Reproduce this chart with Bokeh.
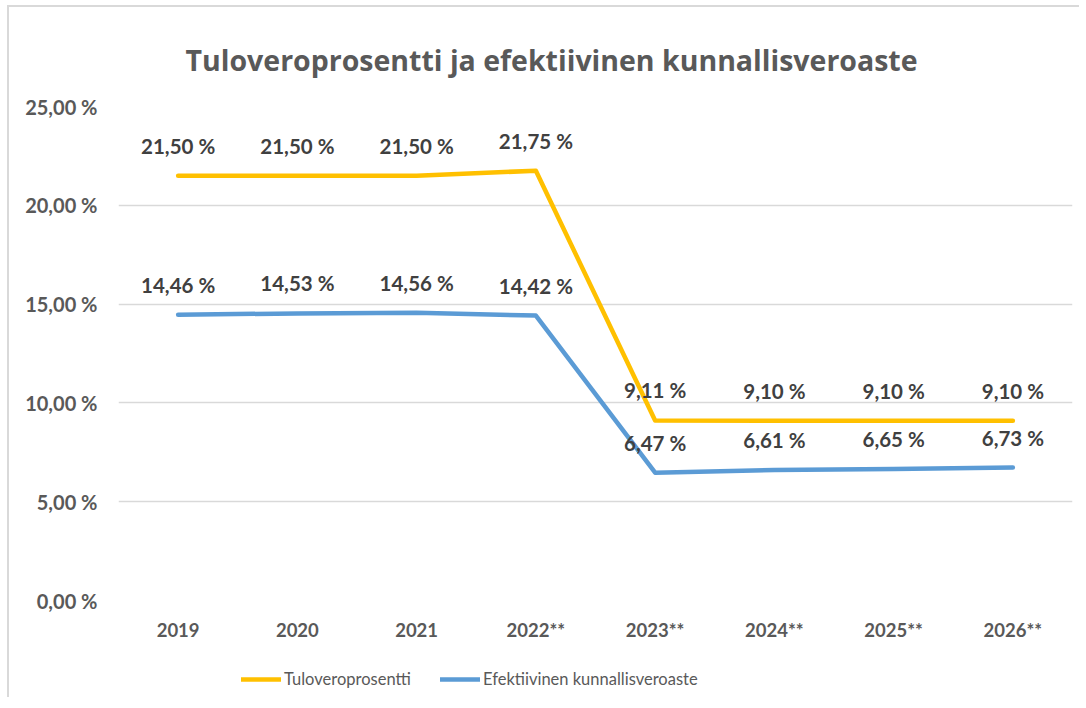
from bokeh.plotting import figure
from bokeh.layouts import column
from bokeh.models import ColumnDataSource, FixedTicker, Legend, LegendItem, Range1d
from bokeh.embed import file_html
from bokeh.resources import INLINE
from bokeh.core.properties import value

# ---- data ----
years = ["2019", "2020", "2021", "2022**", "2023**", "2024**", "2025**", "2026**"]
tulovero = [21.50, 21.50, 21.50, 21.75, 9.11, 9.10, 9.10, 9.10]
efektiivinen = [14.46, 14.53, 14.56, 14.42, 6.47, 6.61, 6.65, 6.73]
yticks = [0, 5, 10, 15, 20, 25]
title_text = "Tuloveroprosentti ja efektiivinen kunnallisveroaste"
series_names = ["Tuloveroprosentti", "Efektiivinen kunnallisveroaste"]


def fmt(v):
    return f"{v:.2f}".replace(".", ",") + " %"


FONT = "Lato"
ORANGE = "#FFC000"
BLUE = "#5B9BD5"
AXIS_C = "#595959"
LABEL_C = "#404040"
colors = [ORANGE, BLUE]

p = figure(x_range=years, y_range=(0, 25), width=1070, height=650,
           output_backend="svg", toolbar_location=None,
           min_border_left=109, min_border_right=7,
           min_border_top=99, min_border_bottom=57)
p.outline_line_color = None
p.background_fill_color = "white"
p.border_fill_color = "white"

p.title.text = title_text
p.title.align = "left"
p.title.offset = 67
p.title.standoff = 55
p.title.text_font = "Open Sans"
p.title.text_font_style = "bold"
p.title.text_font_size = "28.5px"
p.title.text_color = AXIS_C

p.xgrid.grid_line_color = None
p.ygrid.ticker = FixedTicker(ticks=yticks)
p.ygrid.grid_line_color = "#d9d9d9"
p.ygrid.grid_line_width = 1.5

for ax in (p.xaxis[0], p.yaxis[0]):
    ax.axis_line_color = None
    ax.major_tick_line_color = None
    ax.minor_tick_line_color = None
    ax.major_label_text_font = FONT
    ax.major_label_text_font_style = "bold"
    ax.major_label_text_color = AXIS_C

p.xaxis.major_label_text_font_size = "18.5px"
p.yaxis.major_label_text_font_size = "20px"
p.xaxis.major_label_standoff = 12
p.yaxis.ticker = FixedTicker(ticks=yticks)
p.yaxis.major_label_overrides = {t: fmt(t) for t in yticks}
p.yaxis.major_label_standoff = 15

src1 = ColumnDataSource(dict(x=years, y=tulovero, lab=[fmt(v) for v in tulovero]))
src2 = ColumnDataSource(dict(x=years, y=efektiivinen, lab=[fmt(v) for v in efektiivinen]))
sources = [src1, src2]

for src, c in zip(sources, colors):
    p.line("x", "y", source=src, line_color=c, line_width=4.5,
           line_cap="round", line_join="round")

for src in sources:
    p.text("x", "y", text="lab", source=src, y_offset=-30,
           text_align="center", text_baseline="middle",
           text_font=value(FONT), text_font_style="bold",
           text_font_size="20.5px", text_color=LABEL_C)

# ---- legend strip below the chart (same series, outside its visible range) ----
lf = figure(width=1070, height=40, output_backend="svg", toolbar_location=None,
            x_range=p.x_range, y_range=Range1d(-2, -1),
            x_axis_location=None, y_axis_location=None,
            min_border=0)
lf.grid.visible = False
lf.outline_line_color = None
lf.background_fill_color = "white"
lf.border_fill_color = "white"

for name, src, c, xloc in zip(series_names, sources, colors, (123, 322)):
    r = lf.line("x", "y", source=src, line_color=c, line_width=4.5, line_cap="round")
    leg = Legend(items=[LegendItem(label=name, renderers=[r])], location=(xloc, 8),
                 orientation="horizontal", padding=0, margin=0,
                 border_line_color=None, background_fill_alpha=0,
                 glyph_width=40, glyph_height=20, label_standoff=3,
                 label_text_font=FONT, label_text_font_size="16.5px",
                 label_text_color=AXIS_C)
    lf.add_layout(leg)

layout = column(p, lf, spacing=0,
                styles={"border-left": "2px solid #d9d9d9",
                        "border-top": "2px solid #d9d9d9",
                        "position": "relative", "left": "7px", "top": "5px"})

open("out.html", "w").write(file_html(layout, INLINE))
